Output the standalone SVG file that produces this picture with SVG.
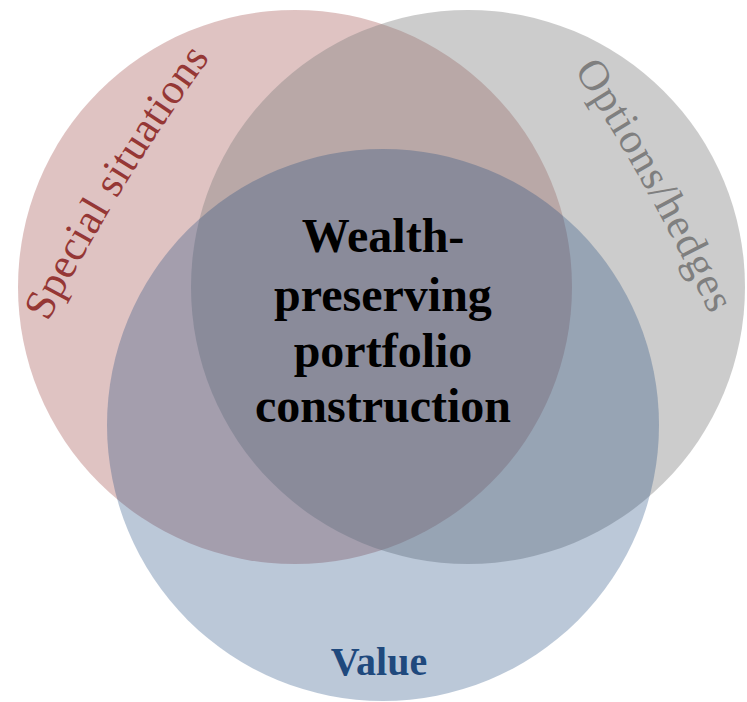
<svg xmlns="http://www.w3.org/2000/svg" xmlns:xlink="http://www.w3.org/1999/xlink" width="747" height="702" viewBox="0 0 747 702">
  <style>
    .lbl { font-family: "Liberation Serif", "Times New Roman", serif; }
    .center { font-size: 48px; font-weight: bold; fill: #000000; text-anchor: middle; }
    .arc { font-size: 43px; }
  </style>
  <defs>
    <path id="arcRed" d="M 48 322 A 2000 2000 0 0 1 210 58" fill="none"/>
    <path id="arcGray" d="M 574 70 A 2000 2000 0 0 1 710 315" fill="none"/>
  </defs>
  <rect width="747" height="702" fill="#ffffff"/>
  <g id="special-situations">
    <circle cx="295" cy="287" r="277" fill="#953735" fill-opacity="0.3"/>
  </g>
  <g id="options-hedges">
    <circle cx="468" cy="287" r="277" fill="#7f7f7f" fill-opacity="0.4"/>
  </g>
  <g id="value">
    <circle cx="383" cy="425" r="276" fill="#1f497d" fill-opacity="0.3"/>
  </g>
  <g id="labels">
    <text class="lbl arc" fill="#953735"><textPath xlink:href="#arcRed" href="#arcRed" textLength="310" lengthAdjust="spacing">Special situations</textPath></text>
    <text class="lbl arc" fill="#7f7f7f"><textPath xlink:href="#arcGray" href="#arcGray" textLength="280" lengthAdjust="spacing">Options/hedges</textPath></text>
    <text class="lbl" x="379" y="675" font-size="40" font-weight="bold" fill="#1f497d" text-anchor="middle">Value</text>
  </g>
  <g id="core">
    <text class="lbl center" x="383" y="252">Wealth-</text>
    <text class="lbl center" x="383" y="311">preserving</text>
    <text class="lbl center" x="383" y="367">portfolio</text>
    <text class="lbl center" x="383" y="422">construction</text>
  </g>
  <g id="connectors"></g>
</svg>
